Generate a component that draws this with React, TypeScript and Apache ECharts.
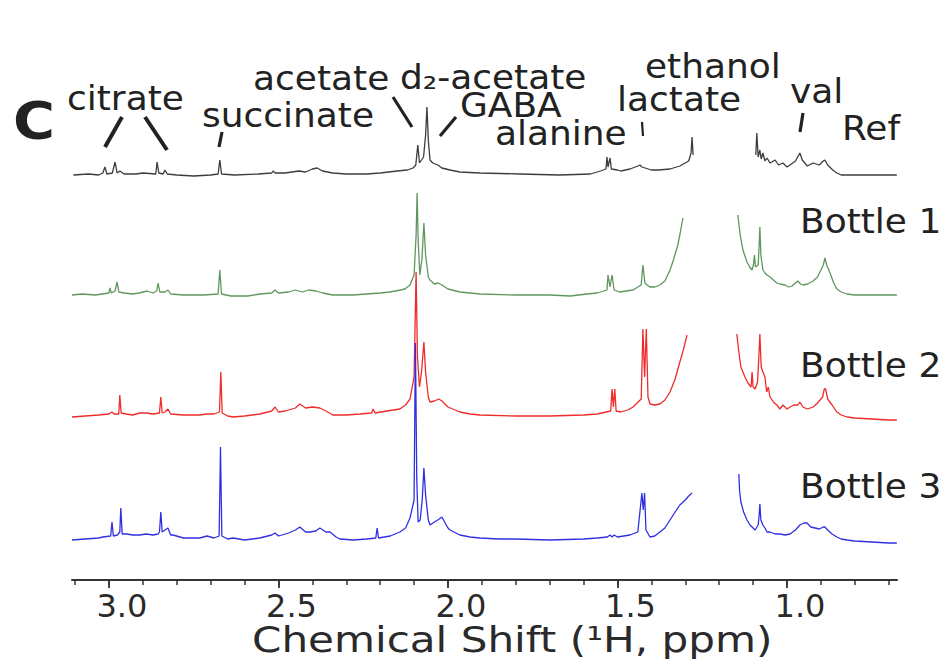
import React, { useEffect, useRef } from "react";
import * as echarts from "echarts";

// ---- axis (ppm) ----
const AXIS_MIN = 0.6755;
const AXIS_MAX = 3.109;
const MINOR_TICKS = [3.1, 3.0, 2.9, 2.8, 2.7, 2.6, 2.5, 2.4, 2.3, 2.2, 2.1, 2.0, 1.9, 1.8, 1.7, 1.6, 1.5, 1.4, 1.3, 1.2, 1.1, 1.0, 0.9, 0.8, 0.7];
const MAJOR_TICKS = [3.0, 2.5, 2.0, 1.5, 1.0];
const AXIS_TITLE = "Chemical Shift (¹H, ppm)";

// ---- spectra: [ppm, intensity], left of the water/ethanol cut and right of it ----
const REF_LEFT = [[3.105,0],[3.06,1],[3.03,0],[3.018,2],[3.012,8],[3.006,1],[2.99,2],[2.982,13],[2.976,2],[2.968,4],[2.955,1],[2.92,1],[2.9,2],[2.862,1],[2.858,13],[2.853,2],[2.84,1],[2.835,5],[2.828,1],[2.8,0],[2.75,-1],[2.7,0],[2.678,1],[2.673,15],[2.668,1],[2.63,0],[2.56,1],[2.52,2],[2.516,4],[2.51,2],[2.48,2],[2.44,4],[2.42,3],[2.4,6],[2.386,7],[2.37,4],[2.34,2],[2.3,1],[2.24,1],[2.2,2],[2.15,4],[2.12,5],[2.103,7],[2.095,10],[2.089,30],[2.084,12],[2.072,18],[2.066,40],[2.062,68],[2.058,35],[2.053,15],[2.045,12],[2.03,10],[2.018,7],[1.994,5],[1.965,3],[1.906,2],[1.79,1],[1.67,0],[1.58,1],[1.55,4],[1.534,6],[1.531,18],[1.528,8],[1.522,17],[1.518,6],[1.5,5],[1.49,4],[1.463,6],[1.44,9],[1.434,10],[1.428,8],[1.4,5],[1.38,5],[1.345,6],[1.316,9],[1.29,14],[1.283,22],[1.28,38],[1.277,20]];
const REF_RIGHT = [[1.092,20],[1.089,42],[1.085,18],[1.08,25],[1.076,16],[1.071,22],[1.065,14],[1.059,17],[1.05,12],[1.035,15],[1.025,10],[1.012,12],[1.0,8],[0.991,10],[0.975,14],[0.962,22],[0.955,15],[0.94,9],[0.923,12],[0.905,10],[0.893,14],[0.888,15],[0.88,10],[0.865,5],[0.853,2],[0.84,0],[0.8,0],[0.75,0],[0.7,0],[0.676,0]];

const B1_LEFT = [[3.109,0],[3.08,1],[3.04,0],[3.0,2],[2.997,7],[2.993,2],[2.982,4],[2.976,13],[2.971,3],[2.955,2],[2.93,1],[2.91,2],[2.888,4],[2.87,2],[2.859,4],[2.855,12],[2.85,3],[2.835,3],[2.826,5],[2.818,1],[2.78,0],[2.72,0],[2.678,1],[2.673,25],[2.668,1],[2.64,-1],[2.59,-1],[2.555,1],[2.52,2],[2.51,5],[2.5,2],[2.47,3],[2.45,5],[2.43,3],[2.41,5],[2.39,4],[2.37,2],[2.34,0],[2.28,0],[2.24,1],[2.2,2],[2.171,3],[2.14,5],[2.127,6],[2.112,10],[2.1,20],[2.094,60],[2.091,102],[2.088,55],[2.083,20],[2.077,35],[2.071,72],[2.066,40],[2.058,18],[2.053,15],[2.04,11],[2.029,12],[2.018,10],[2.0,6],[1.965,3],[1.935,2],[1.906,1],[1.8,0],[1.7,0],[1.64,-1],[1.59,1],[1.56,2],[1.531,5],[1.528,20],[1.522,8],[1.516,20],[1.51,5],[1.493,3],[1.475,4],[1.454,5],[1.43,10],[1.425,30],[1.419,12],[1.413,10],[1.404,8],[1.39,8],[1.375,10],[1.36,14],[1.345,25],[1.335,35],[1.322,50],[1.315,62],[1.307,77]];
const B1_RIGHT = [[1.145,80],[1.138,60],[1.13,45],[1.118,33],[1.11,28],[1.103,25],[1.099,30],[1.096,40],[1.093,28],[1.085,30],[1.082,50],[1.08,68],[1.077,40],[1.071,25],[1.065,22],[1.059,20],[1.05,18],[1.04,15],[1.03,12],[1.02,11],[1.006,10],[0.995,8],[0.985,9],[0.975,12],[0.968,14],[0.96,11],[0.953,10],[0.94,11],[0.923,14],[0.91,18],[0.9,25],[0.893,30],[0.888,37],[0.883,30],[0.873,22],[0.862,12],[0.853,6],[0.84,3],[0.823,1],[0.8,0],[0.75,0],[0.7,0],[0.676,0]];

const B2_LEFT = [[3.109,0],[3.07,1],[3.03,2],[3.0,3],[2.991,5],[2.985,3],[2.971,3],[2.968,22],[2.964,4],[2.95,3],[2.93,2],[2.909,4],[2.888,4],[2.87,3],[2.851,4],[2.847,20],[2.843,4],[2.835,5],[2.826,8],[2.818,3],[2.78,2],[2.732,2],[2.711,3],[2.69,3],[2.674,5],[2.67,45],[2.666,4],[2.65,1],[2.634,0],[2.6,1],[2.555,3],[2.52,6],[2.51,10],[2.5,5],[2.48,6],[2.45,9],[2.437,13],[2.42,9],[2.4,10],[2.378,9],[2.36,6],[2.34,2],[2.3,2],[2.26,3],[2.225,4],[2.221,8],[2.215,4],[2.18,6],[2.142,8],[2.125,12],[2.112,18],[2.1,40],[2.094,145],[2.09,60],[2.084,30],[2.078,45],[2.071,75],[2.066,45],[2.058,20],[2.053,15],[2.04,16],[2.027,18],[2.018,16],[2.0,10],[1.965,5],[1.935,3],[1.906,2],[1.8,1],[1.7,1],[1.6,2],[1.56,3],[1.52,6],[1.516,28],[1.512,10],[1.508,28],[1.504,6],[1.49,5],[1.47,7],[1.454,10],[1.43,18],[1.425,88],[1.42,40],[1.415,88],[1.41,20],[1.404,13],[1.39,12],[1.375,13],[1.36,17],[1.345,25],[1.33,38],[1.316,55],[1.305,68],[1.295,82]];
const B2_RIGHT = [[1.148,83],[1.142,65],[1.136,50],[1.124,40],[1.115,34],[1.106,30],[1.103,45],[1.1,30],[1.094,28],[1.087,35],[1.083,60],[1.08,83],[1.076,50],[1.071,45],[1.065,40],[1.06,25],[1.055,30],[1.05,20],[1.04,15],[1.03,12],[1.021,8],[1.012,12],[1.0,8],[0.991,10],[0.98,12],[0.968,12],[0.962,15],[0.953,10],[0.94,8],[0.923,10],[0.91,14],[0.895,20],[0.89,28],[0.886,28],[0.88,18],[0.867,12],[0.853,5],[0.84,2],[0.823,0],[0.8,-1],[0.75,-2],[0.7,-3],[0.676,-3]];

const B3_LEFT = [[3.109,0],[3.07,1],[3.03,2],[3.018,3],[2.995,4],[2.991,18],[2.987,4],[2.975,5],[2.968,8],[2.965,32],[2.961,6],[2.947,6],[2.93,5],[2.909,5],[2.89,6],[2.87,5],[2.855,6],[2.851,8],[2.847,28],[2.843,8],[2.835,10],[2.826,12],[2.818,5],[2.811,5],[2.78,2],[2.732,2],[2.711,4],[2.69,2],[2.675,4],[2.671,93],[2.667,4],[2.65,1],[2.634,2],[2.6,0],[2.555,2],[2.52,5],[2.51,7],[2.5,4],[2.47,7],[2.45,10],[2.437,13],[2.42,8],[2.407,8],[2.39,9],[2.378,12],[2.36,8],[2.348,8],[2.33,3],[2.319,1],[2.28,0],[2.24,1],[2.213,2],[2.209,12],[2.205,2],[2.17,4],[2.142,8],[2.125,12],[2.112,22],[2.1,40],[2.096,197],[2.092,60],[2.088,18],[2.082,20],[2.076,40],[2.071,72],[2.066,45],[2.058,20],[2.053,15],[2.04,18],[2.03,20],[2.018,23],[2.0,12],[1.994,10],[1.965,5],[1.935,3],[1.906,2],[1.85,1],[1.8,1],[1.7,0],[1.6,1],[1.56,2],[1.53,3],[1.522,5],[1.516,3],[1.51,5],[1.5,3],[1.463,5],[1.44,8],[1.428,47],[1.424,30],[1.42,47],[1.416,10],[1.404,3],[1.39,4],[1.375,8],[1.36,12],[1.345,20],[1.33,28],[1.316,35],[1.3,40],[1.29,44],[1.28,47]];
const B3_RIGHT = [[1.142,66],[1.14,50],[1.136,38],[1.128,28],[1.118,20],[1.109,15],[1.1,12],[1.094,10],[1.085,15],[1.082,25],[1.08,36],[1.077,20],[1.071,15],[1.065,12],[1.059,8],[1.05,8],[1.035,6],[1.021,6],[1.006,5],[0.991,6],[0.975,10],[0.962,15],[0.95,17],[0.941,17],[0.93,13],[0.917,12],[0.905,11],[0.893,13],[0.888,13],[0.88,10],[0.867,6],[0.853,3],[0.84,1],[0.823,0],[0.8,-1],[0.75,-2],[0.7,-3],[0.676,-3]];

const TRACE_NAMES = ["Ref", "Bottle 1", "Bottle 2", "Bottle 3"];
const TRACE_DATA = [[REF_LEFT, REF_RIGHT], [B1_LEFT, B1_RIGHT], [B2_LEFT, B2_RIGHT], [B3_LEFT, B3_RIGHT]];

// ---- styling / layout (not data) ----
const TRACE_COLORS = ["#3d3d3d", "#5f975f", "#ef2b2b", "#3030e2"];
const GRID_TOPS = [5, 125, 247, 370];
const GRID_H = 180;
const Y_MIN = -10;
const Y_MAX = 170;
const FONT = "DejaVu Sans";
const INK = "#222";
const LABEL_FS = 33;
const LABEL_SX = 1.09;

function label(text: string, x: number, y: number, fontSize = LABEL_FS, weight = "normal", sx = LABEL_SX, color = INK) {
  return {
    type: "text",
    x,
    y,
    scaleX: sx,
    silent: true,
    style: {
      text,
      fontSize,
      fontFamily: FONT,
      fontWeight: weight,
      fill: color,
      align: "left",
      verticalAlign: "middle",
      textAlign: "left",
      textVerticalAlign: "middle",
    },
  };
}

function leader(x1: number, y1: number, x2: number, y2: number, w = 3.2) {
  return {
    type: "line",
    silent: true,
    shape: { x1, y1, x2, y2 },
    style: { stroke: INK, lineWidth: w, lineCap: "butt" },
  };
}

export default function App() {
  const ref = useRef<HTMLDivElement>(null);

  useEffect(() => {
    document.body.style.margin = "0";
    if (!ref.current) return;
    const chart = echarts.init(ref.current, undefined, { renderer: "svg" });

    const grids = GRID_TOPS.map((top) => ({ left: 72, width: 825, top, height: GRID_H }));

    const xAxes: any[] = GRID_TOPS.map((_, i) => ({
      gridIndex: i,
      type: "value",
      min: AXIS_MIN,
      max: AXIS_MAX,
      inverse: true,
      show: i === 3,
      position: "bottom",
      offset: 30,
      splitLine: { show: false },
      axisLine: { show: true, onZero: false, lineStyle: { color: "#333", width: 2 } },
      axisTick: {
        show: true,
        inside: false,
        length: 5,
        customValues: MINOR_TICKS,
        lineStyle: { color: "#333", width: 1.5 },
      },
      axisLabel: {
        show: true,
        customValues: MAJOR_TICKS,
        formatter: (v: number) => v.toFixed(1),
        fontFamily: FONT,
        fontSize: 32,
        color: "#2a2a2a",
        margin: 10,
        padding: [0, 0, 0, 26],
      },
    }));
    xAxes.push({
      gridIndex: 3,
      type: "value",
      min: AXIS_MIN,
      max: AXIS_MAX,
      inverse: true,
      position: "bottom",
      offset: 30,
      splitLine: { show: false },
      axisLine: { show: false, onZero: false },
      axisTick: { show: true, inside: false, length: 8, customValues: MAJOR_TICKS, lineStyle: { color: "#333", width: 1.8 } },
      axisLabel: { show: false },
    });

    const yAxes = GRID_TOPS.map((_, i) => ({
      gridIndex: i,
      type: "value",
      min: Y_MIN,
      max: Y_MAX,
      show: false,
      splitLine: { show: false },
    }));

    const series: any[] = [];
    TRACE_DATA.forEach((parts, i) => {
      parts.forEach((pts) => {
        series.push({
          type: "line",
          name: TRACE_NAMES[i],
          xAxisIndex: i,
          yAxisIndex: i,
          data: pts,
          showSymbol: false,
          symbol: "none",
          clip: false,
          silent: true,
          lineStyle: { color: TRACE_COLORS[i], width: 1.3 },
          z: 2 + i,
        });
      });
    });

    const graphic = [
      label("C", 13, 121, 52, "bold", 1.1),
      label("citrate", 67, 98.5),
      leader(122, 117, 105, 147, 4),
      leader(145, 117, 167, 150, 4),
      label("succinate", 202, 115.5),
      leader(222, 132, 219, 147),
      label("acetate", 253, 78.5),
      leader(393, 97, 412, 127),
      label("d₂-acetate", 400, 77.5),
      label("GABA", 460, 105.5),
      leader(456, 117, 440, 136),
      label("alanine", 495, 133.5),
      label("ethanol", 645, 66.5),
      label("lactate", 617, 99.5),
      leader(642, 122, 643, 136, 2.2),
      label("val", 790, 91.5),
      leader(803, 113, 800, 132),
      label("Ref", 842, 128.5),
      label(TRACE_NAMES[1], 800, 221.5),
      label(TRACE_NAMES[2], 800, 365.5),
      label(TRACE_NAMES[3], 800, 486.5),
      label(AXIS_TITLE, 252, 640, 36, "normal", 1.17, "#2a2a2a"),
    ];

    chart.setOption({
      animation: false,
      backgroundColor: "#ffffff",
      grid: grids,
      xAxis: xAxes,
      yAxis: yAxes,
      series,
      graphic,
    });

    return () => chart.dispose();
  }, []);

  return <div ref={ref} style={{ width: 950, height: 668 }} />;
}
